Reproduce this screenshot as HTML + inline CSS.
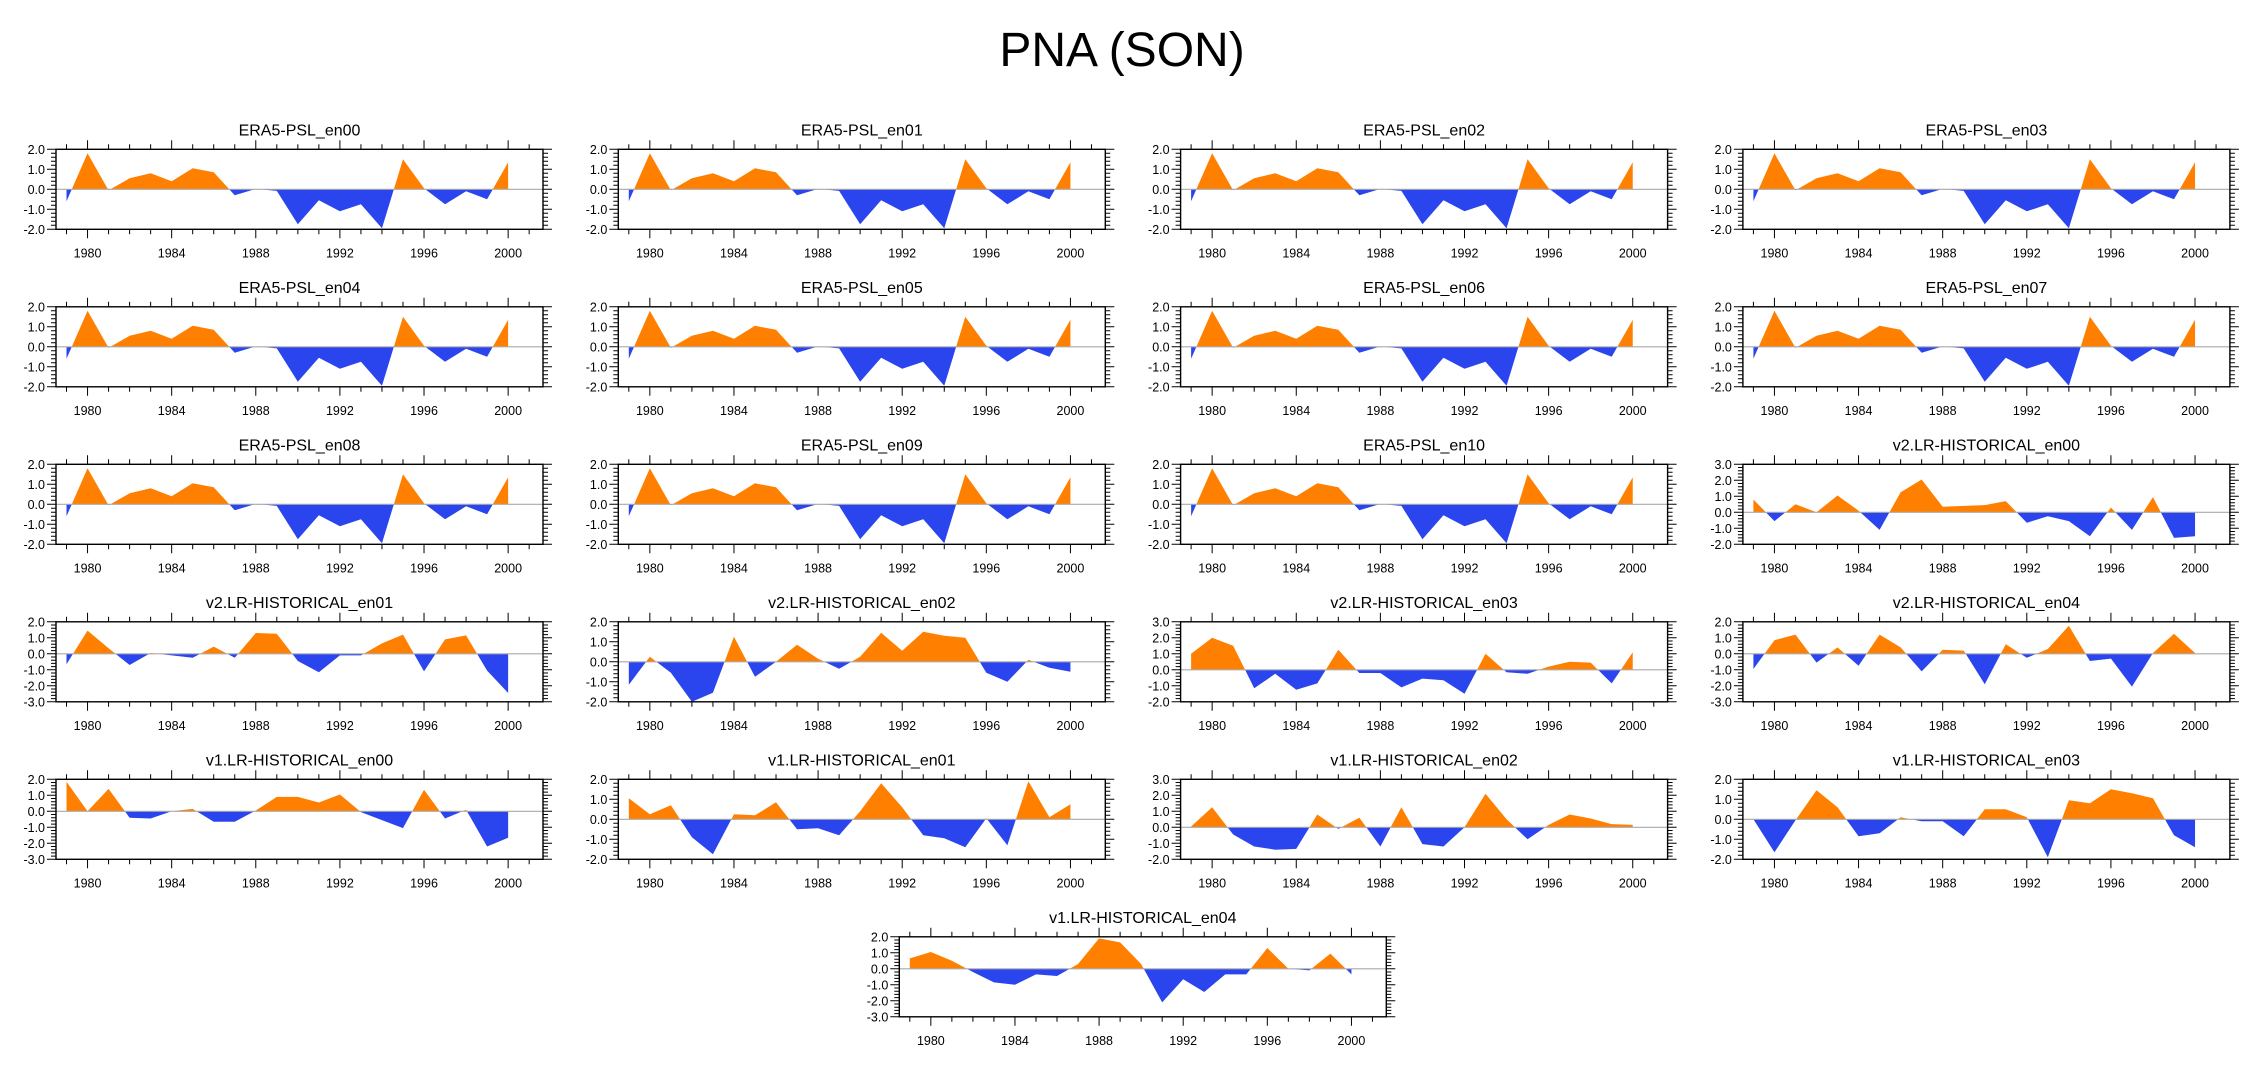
<!DOCTYPE html>
<html><head><meta charset="utf-8"><style>
html,body{margin:0;padding:0;background:#fff;}
svg{display:block;font-family:"Liberation Sans",Arial,sans-serif;}
</style></head><body>
<svg id="chart" width="2252" height="1078" viewBox="0 0 2252 1078" xmlns="http://www.w3.org/2000/svg">
<text x="1122" y="66" font-size="48" text-anchor="middle">PNA (SON)</text>
</svg>
<script>
const years = [1979,1980,1981,1982,1983,1984,1985,1986,1987,1988,1989,1990,1991,1992,1993,1994,1995,1996,1997,1998,1999,2000];
const yearTickLabels = [1980,1984,1988,1992,1996,2000];
const era5 = [-0.6,1.8,-0.05,0.55,0.8,0.4,1.05,0.85,-0.3,0.02,-0.08,-1.75,-0.55,-1.1,-0.75,-1.95,1.5,0.05,-0.75,-0.1,-0.5,1.35];
const v2en00 = [0.8,-0.55,0.5,0.0,1.05,0.1,-1.1,1.25,2.05,0.35,0.4,0.45,0.7,-0.65,-0.25,-0.55,-1.5,0.3,-1.1,0.95,-1.6,-1.5];
const v2en01 = [-0.65,1.45,0.35,-0.7,0.05,-0.1,-0.25,0.45,-0.25,1.3,1.25,-0.45,-1.15,-0.1,-0.1,0.65,1.2,-1.1,0.9,1.15,-1.05,-2.45];
const v2en02 = [-1.15,0.25,-0.55,-2.0,-1.55,1.25,-0.75,0.0,0.85,0.15,-0.35,0.25,1.45,0.55,1.5,1.3,1.2,-0.55,-1.0,0.1,-0.3,-0.5];
const v2en03 = [1.0,2.0,1.5,-1.15,-0.25,-1.25,-0.85,1.25,-0.2,-0.2,-1.1,-0.55,-0.65,-1.5,1.0,-0.15,-0.25,0.2,0.5,0.45,-0.85,1.1];
const v2en04 = [-0.95,0.85,1.2,-0.55,0.4,-0.75,1.2,0.4,-1.1,0.25,0.2,-1.9,0.6,-0.25,0.3,1.75,-0.45,-0.3,-2.05,0.05,1.25,0.05];
const v1en00 = [1.85,0.0,1.4,-0.4,-0.45,0.0,0.15,-0.65,-0.65,0.05,0.9,0.9,0.55,1.05,-0.05,-0.55,-1.05,1.35,-0.45,0.1,-2.2,-1.65];
const v1en01 = [1.05,0.25,0.7,-0.9,-1.75,0.25,0.2,0.85,-0.5,-0.45,-0.8,0.4,1.8,0.6,-0.8,-0.95,-1.4,0.05,-1.3,1.9,0.1,0.75];
const v1en02 = [0.05,1.25,-0.45,-1.2,-1.4,-1.35,0.8,-0.1,0.6,-1.2,1.25,-1.05,-1.2,0.0,2.1,0.5,-0.75,0.15,0.8,0.55,0.2,0.15];
const v1en03 = [0.0,-1.65,-0.05,1.45,0.6,-0.85,-0.7,0.1,-0.1,-0.1,-0.85,0.5,0.5,0.1,-1.9,0.95,0.8,1.5,1.3,1.05,-0.8,-1.4];
const v1en04 = [0.65,1.05,0.5,-0.2,-0.85,-1.0,-0.35,-0.45,0.3,1.9,1.65,0.3,-2.1,-0.65,-1.45,-0.35,-0.35,1.3,0.0,-0.1,0.95,-0.35];
const panelTitles = ["ERA5-PSL_en00","ERA5-PSL_en01","ERA5-PSL_en02","ERA5-PSL_en03","ERA5-PSL_en04","ERA5-PSL_en05","ERA5-PSL_en06","ERA5-PSL_en07","ERA5-PSL_en08","ERA5-PSL_en09","ERA5-PSL_en10","v2.LR-HISTORICAL_en00","v2.LR-HISTORICAL_en01","v2.LR-HISTORICAL_en02","v2.LR-HISTORICAL_en03","v2.LR-HISTORICAL_en04","v1.LR-HISTORICAL_en00","v1.LR-HISTORICAL_en01","v1.LR-HISTORICAL_en02","v1.LR-HISTORICAL_en03","v1.LR-HISTORICAL_en04"];
const panelSeries = [era5,era5,era5,era5,era5,era5,era5,era5,era5,era5,era5,v2en00,v2en01,v2en02,v2en03,v2en04,v1en00,v1en01,v1en02,v1en03,v1en04];
const panelYMin = [-2,-2,-2,-2,-2,-2,-2,-2,-2,-2,-2,-2,-3,-2,-2,-3,-3,-2,-2,-2,-3];
const panelYMax = [2,2,2,2,2,2,2,2,2,2,2,3,2,2,3,2,2,2,3,2,2];

const NS="http://www.w3.org/2000/svg";
const svg=document.getElementById('chart');
function mk(tag,attrs,parent){const e=document.createElementNS(NS,tag);for(const k in attrs)e.setAttribute(k,attrs[k]);(parent||svg).appendChild(e);return e;}
const W=487,H=80,XMIN=1978.5,XMAX=1978.5+487/21.03;
function panelPos(i){
  if(i<20){const c=i%4,r=Math.floor(i/4);return [56+c*562.3,149.3+r*157.5];}
  return [899.3,149.3+5*157.5];
}
for(let i=0;i<panelTitles.length;i++){
  const [px,py]=panelPos(i);
  const ymin=panelYMin[i],ymax=panelYMax[i],vals=panelSeries[i];
  const xs=y=>px+(y-XMIN)/(XMAX-XMIN)*W;
  const ys=v=>py+(ymax-v)/(ymax-ymin)*H;
  const g=mk('g',{});
  
  
  const t=mk('text',{x:px+W/2,y:py-14,'font-size':16,'text-anchor':'middle'},g);
  t.textContent=panelTitles[i];
  
  
  const y0=ys(0);
  let d='M'+xs(years[0])+','+y0;
  for(let k=0;k<years.length;k++)d+=' L'+xs(years[k]).toFixed(2)+','+ys(vals[k]).toFixed(2);
  d+=' L'+xs(years[years.length-1])+','+y0+' Z';
  const ca='ca'+i,cb='cb'+i;
  const defs=mk('defs',{},g);
  const c1=mk('clipPath',{id:ca},defs);mk('rect',{x:px,y:py,width:W,height:y0-py},c1);
  const c2=mk('clipPath',{id:cb},defs);mk('rect',{x:px,y:y0,width:W,height:py+H-y0},c2);
  const pa=mk('path',{d:d,fill:'#ff8000','clip-path':'url(#'+ca+')'},g);
  
  
  const pb=mk('path',{d:d,fill:'#2b45ee','clip-path':'url(#'+cb+')'},g);
  
  
  const zl=mk('line',{x1:px,x2:px+W,y1:y0,y2:y0,stroke:'#aaaaaa','stroke-width':1.2},g);
  
  
  let td='';
  for(let yr=1979;yr<=2001;yr++){
    const x=xs(yr).toFixed(2);const len=(yr%4===0)?9:5;
    td+='M'+x+','+py+' v'+(-len)+' M'+x+','+(py+H)+' v'+len+' ';
  }
  for(let v=ymin;v<=ymax+1e-6;v+=0.2){
    const y=ys(v).toFixed(2);const major=Math.abs(v-Math.round(v))<1e-6;const len=major?9:5;
    td+='M'+px+','+y+' h'+(-len)+' M'+(px+W)+','+y+' h'+len+' ';
  }
  mk('path',{d:td,stroke:'#000','stroke-width':1,fill:'none'},g);
  const fr=mk('rect',{x:px,y:py,width:W,height:H,fill:'none',stroke:'#000','stroke-width':1.4},g);
  
  
  for(let v=ymin;v<=ymax;v++){
    const l=mk('text',{x:px-11,y:ys(v)+4.5,'font-size':12.5,'text-anchor':'end'},g);
    l.textContent=v.toFixed(1);
    
    
  }
  for(const yr of yearTickLabels){
    const l=mk('text',{x:xs(yr),y:py+H+28,'font-size':12.5,'text-anchor':'middle'},g);
    l.textContent=yr;
    
    
  }
}
</script>
</body></html>
